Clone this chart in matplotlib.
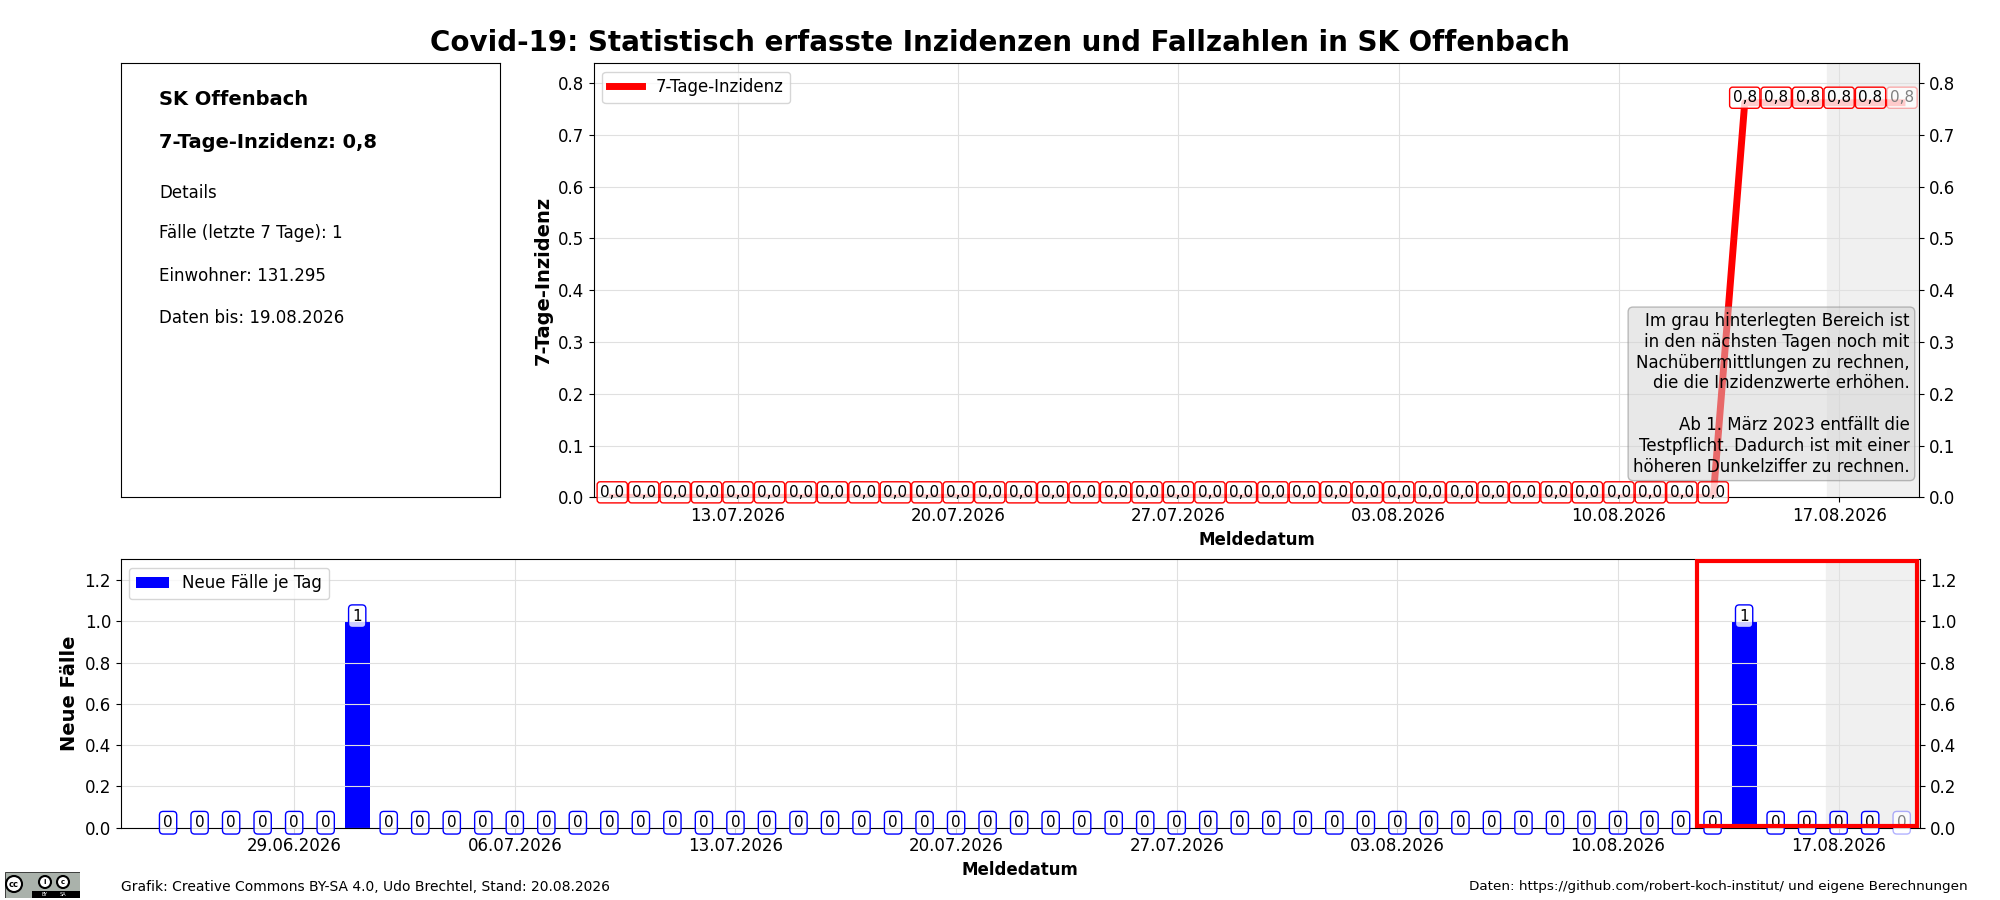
import numpy as np
import pandas as pd
import matplotlib
matplotlib.use("Agg")
import matplotlib.pyplot as plt
import matplotlib.dates as mdates
from matplotlib.patches import Rectangle, Circle

# Daten
landkreis = "SK Offenbach"
einwohner = "131.295"
faelle_7tage = 1
daten_bis = "19.08.2026"
stand = "20.08.2026"

# Neue Faelle je Tag (25.06.2026 - 19.08.2026)
fall_daten = pd.date_range("2026-06-25", "2026-08-19", freq="D")
neue_faelle = [0, 0, 0, 0, 0, 0, 1, 0, 0, 0, 0, 0, 0, 0,
               0, 0, 0, 0, 0, 0, 0, 0, 0, 0, 0, 0, 0, 0,
               0, 0, 0, 0, 0, 0, 0, 0, 0, 0, 0, 0, 0, 0,
               0, 0, 0, 0, 0, 0, 0, 0, 1, 0, 0, 0, 0, 0]

# 7-Tage-Inzidenz (09.07.2026 - 19.08.2026)
inz_daten = pd.date_range("2026-07-09", "2026-08-19", freq="D")
inzidenz = [0.0, 0.0, 0.0, 0.0, 0.0, 0.0, 0.0, 0.0, 0.0, 0.0, 0.0, 0.0,
            0.0, 0.0, 0.0, 0.0, 0.0, 0.0, 0.0, 0.0, 0.0, 0.0, 0.0, 0.0,
            0.0, 0.0, 0.0, 0.0, 0.0, 0.0, 0.0, 0.0, 0.0, 0.0, 0.0, 0.0,
            0.762, 0.762, 0.762, 0.762, 0.762, 0.762]

hinweis = ("Im grau hinterlegten Bereich ist\n"
           "in den nächsten Tagen noch mit\n"
           "Nachübermittlungen zu rechnen,\n"
           "die die Inzidenzwerte erhöhen.\n\n"
           "Ab 1. März 2023 entfällt die\n"
           "Testpflicht. Dadurch ist mit einer\n"
           "höheren Dunkelziffer zu rechnen.")

tag = pd.Timedelta(days=1)
grau_start = mdates.date2num(inz_daten[-1] - 2.4 * tag)

fig = plt.figure(figsize=(20, 9), dpi=100)
fig.suptitle("Covid-19: Statistisch erfasste Inzidenzen und Fallzahlen in " + landkreis,
             fontsize=20, fontweight="bold", y=0.968)

# Infobox
ax_info = fig.add_axes([0.0605, 0.4478, 0.1895, 0.4822])
ax_info.set_xticks([])
ax_info.set_yticks([])
inz_text = f"{inzidenz[-1]:.1f}".replace(".", ",")
ax_info.text(0.1, 0.917, landkreis, fontsize=14, fontweight="bold", va="center")
ax_info.text(0.1, 0.816, "7-Tage-Inzidenz: " + inz_text, fontsize=14, fontweight="bold", va="center")
ax_info.text(0.1, 0.70, "Details", fontsize=12, va="center")
ax_info.text(0.1, 0.608, f"Fälle (letzte 7 Tage): {faelle_7tage}", fontsize=12, va="center")
ax_info.text(0.1, 0.509, "Einwohner: " + einwohner, fontsize=12, va="center")
ax_info.text(0.1, 0.412, "Daten bis: " + daten_bis, fontsize=12, va="center")

def achse_formatieren(ax):
    ax.xaxis.set_major_locator(mdates.WeekdayLocator(byweekday=mdates.MO))
    ax.xaxis.set_major_formatter(mdates.DateFormatter("%d.%m.%Y"))
    ax.grid(True, color="#e0e0e0", lw=0.8)
    ax.tick_params(axis="both", labelsize=12)
    ax.tick_params(axis="y", right=True, labelright=True)
    ax.set_xlabel("Meldedatum", fontsize=12, fontweight="bold")

# Inzidenz-Diagramm
ax1 = fig.add_axes([0.297, 0.4474, 0.6625, 0.4823])
ax1.plot(inz_daten, inzidenz, color="red", lw=5, label="7-Tage-Inzidenz")
xlim1 = (mdates.date2num(inz_daten[0] - 0.58 * tag), mdates.date2num(inz_daten[-1] + 0.54 * tag))
ax1.axvspan(grau_start, xlim1[1], color="#f0f0f0", zorder=0)
ax1.set_xlim(xlim1)
ax1.set_ylim(0, max(inzidenz) * 1.1)
for i, (d, v) in enumerate(zip(inz_daten, inzidenz)):
    letzter = i == len(inzidenz) - 1
    ax1.annotate(f"{v:.1f}".replace(".", ","), (d, v), xytext=(0, 3.6),
                 textcoords="offset points", ha="center", va="center", fontsize=11,
                 color="gray" if letzter else "black",
                 bbox=dict(boxstyle="round,pad=0.2", fc=(1, 1, 1, 0.8),
                           ec=(1, 0, 0, 0.3) if letzter else "red", lw=1))
ax1.text(0.993, 0.05, hinweis, transform=ax1.transAxes, ha="right", va="bottom",
         multialignment="right", fontsize=12,
         bbox=dict(boxstyle="round,pad=0.3", fc="lightgray", ec="gray", alpha=0.5))
achse_formatieren(ax1)
ax1.set_ylabel("7-Tage-Inzidenz", fontsize=14, fontweight="bold")
ax1.legend(loc="upper left", fontsize=12)

# Fallzahlen-Diagramm
ax2 = fig.add_axes([0.0604, 0.0803, 0.8996, 0.2983])
ax2.bar(fall_daten, neue_faelle, width=0.8, color="blue", label="Neue Fälle je Tag")
xlim2 = (mdates.date2num(fall_daten[0] - 1.5 * tag), mdates.date2num(fall_daten[-1] + 0.58 * tag))
ax2.axvspan(grau_start, xlim2[1], color="#f0f0f0", zorder=0)
ax2.set_xlim(xlim2)
ymax = max(neue_faelle) * 1.3
ax2.set_ylim(0, ymax)
for i, (d, v) in enumerate(zip(fall_daten, neue_faelle)):
    letzter = i == len(neue_faelle) - 1
    ax2.annotate(str(v), (d, v), xytext=(0, 3.6), textcoords="offset points",
                 ha="center", va="center", fontsize=11,
                 color="gray" if letzter else "black",
                 bbox=dict(boxstyle="round,pad=0.25", fc=(1, 1, 1, 0.8),
                           ec=(0, 0, 1, 0.3) if letzter else "blue", lw=1))
x0 = mdates.date2num(fall_daten[-1] - 6.5 * tag)
ax2.add_patch(Rectangle((x0, ymax * 0.008), 7, ymax * 0.985, fill=False,
                        ec="red", lw=3, zorder=4))
achse_formatieren(ax2)
ax2.set_ylabel("Neue Fälle", fontsize=14, fontweight="bold")
ax2.legend(loc="upper left", fontsize=12)

# Fusszeile
fig.text(0.0604, 0.0145, "Grafik: Creative Commons BY-SA 4.0, Udo Brechtel, Stand: " + stand,
         fontsize=10, va="center")
fig.text(0.984, 0.0145, "Daten: https://github.com/robert-koch-institut/ und eigene Berechnungen",
         fontsize=9.7, va="center", ha="right")

# CC-Logo (vereinfacht)
ax_logo = fig.add_axes([0.0025, 0.0022, 0.0375, 0.0289])
ax_logo.set_xlim(0, 75)
ax_logo.set_ylim(0, 26)
ax_logo.axis("off")
ax_logo.add_patch(Rectangle((0, 0), 75, 26, fc="#aab2ab", ec="black", lw=0.5))
ax_logo.add_patch(Rectangle((27, 0), 48, 7, fc="black"))
ax_logo.add_patch(Circle((9, 14), 8, fc="white", ec="black", lw=1.5))
ax_logo.text(9, 14, "cc", fontsize=6, fontweight="bold", ha="center", va="center")
ax_logo.add_patch(Circle((40, 16), 6, fc="white", ec="black", lw=1.5))
ax_logo.text(40, 16, "i", fontsize=5, fontweight="bold", ha="center", va="center")
ax_logo.add_patch(Circle((58, 16), 6, fc="white", ec="black", lw=1.5))
ax_logo.text(58, 16, "c", fontsize=5, fontweight="bold", ha="center", va="center")
ax_logo.text(40, 3.5, "BY", fontsize=3.5, color="white", ha="center", va="center")
ax_logo.text(58, 3.5, "SA", fontsize=3.5, color="white", ha="center", va="center")

fig.savefig("out.png", dpi=100)
